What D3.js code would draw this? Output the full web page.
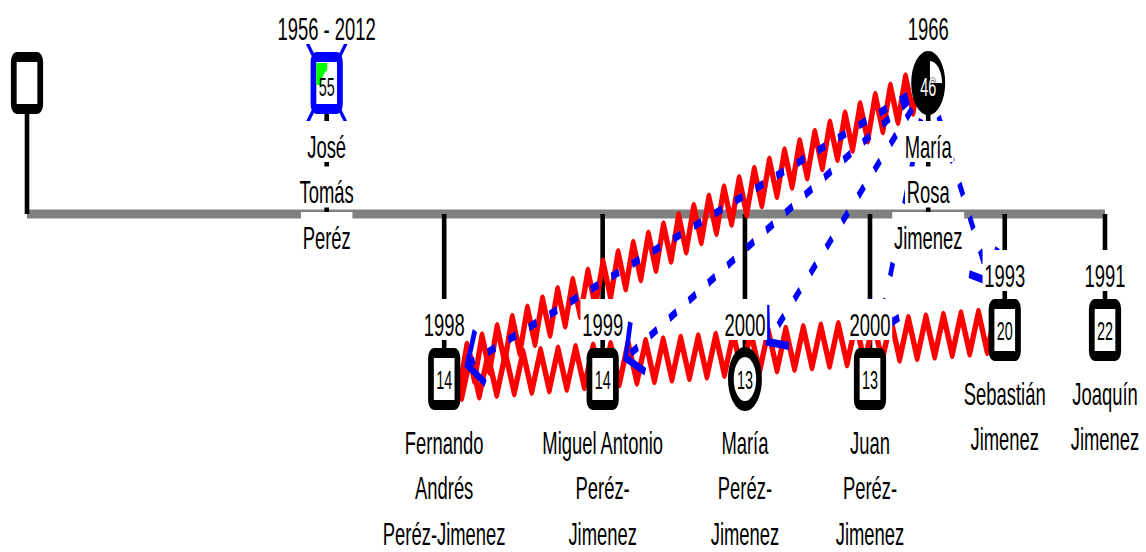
<!DOCTYPE html>
<html>
<head>
<meta charset="utf-8">
<script src="https://cdn.jsdelivr.net/npm/d3@7"></script>
<style>
  body { margin: 0; background: #fff; }
  svg { display: block; font-family: "Liberation Sans", Arial, sans-serif; }
</style>
</head>
<body>
<svg width="1146" height="552"></svg>
<script>
// people, left to right as they sit in the genogram
const ids = ['father1', 'jose', 'mariaRosa', 'fernando', 'miguel', 'maria', 'juan', 'sebastian', 'joaquin']
const sexes = ['M', 'M', 'F', 'M', 'M', 'F', 'M', 'M', 'M']
const years = ['', '1956 - 2012', '1966', '1998', '1999', '2000', '2000', '1993', '1991']
const ages = ['', '55', '46', '14', '14', '13', '13', '20', '22']
const nameLines = [
  [],
  ['José', 'Tomás', 'Peréz'],
  ['María', 'Rosa', 'Jimenez'],
  ['Fernando', 'Andrés', 'Peréz-Jimenez'],
  ['Miguel Antonio', 'Peréz-', 'Jimenez'],
  ['María', 'Peréz-', 'Jimenez'],
  ['Juan', 'Peréz-', 'Jimenez'],
  ['Sebastián', 'Jimenez'],
  ['Joaquín', 'Jimenez']
]
const deceased = ['jose']
const indexPerson = 'mariaRosa'
// place of each person on a 0-100 track, and the row they sit in
const columns = [0, 27.8, 83.6, 38.7, 53.4, 66.6, 78.2, 90.7, 100]
const rows = ['parents', 'parents', 'parents', 'younger', 'younger', 'younger', 'younger', 'older', 'older']

// relationships
const conflicts = [['mariaRosa', 'fernando'], ['fernando', 'sebastian']]
const focusFrom = 'mariaRosa'
const focusTo = ['fernando', 'miguel', 'maria', 'juan', 'sebastian']

//======== layout ========//
// the whole drawing is squeezed sideways, text included
const SX = 0.575
const svg = d3.select('svg')
const root = svg.append('g').attr('transform', `scale(${SX},1)`)

const x = d3.scaleLinear().domain([0, 100]).range([27 / SX, 1105 / SX])
const y = d3.scaleOrdinal().domain(['parents', 'older', 'younger']).range([83, 330, 379])
const sibY = 214
const halfH = 31

const people = ids.map((id, i) => ({
  id, sex: sexes[i], year: years[i], age: ages[i], lines: nameLines[i],
  cx: x(columns[i]), cy: y(rows[i]), top: rows[i] === 'parents',
  dead: deceased.includes(id)
}))
const byId = new Map(people.map(p => [p.id, p]))

//======== structure lines ========//
root.append('line')
  .attr('x1', x(0)).attr('x2', x(100))
  .attr('y1', sibY).attr('y2', sibY)
  .attr('stroke', '#808080').attr('stroke-width', 9)

root.append('g').selectAll('line')
  .data(people)
  .join('line')
  .attr('x1', d => d.cx).attr('x2', d => d.cx)
  .attr('y1', d => d.top ? d.cy + halfH : sibY)
  .attr('y2', d => d.top ? sibY : d.cy - halfH)
  .attr('stroke', '#000').attr('stroke-width', 8)

//======== relationships ========//
// conflict line: a zigzag with up/down swings, same number of cycles on each
const zigzag = (a, b, amp, halfSteps) => {
  const dx = b.cx - a.cx, dy = b.cy - a.cy
  const pts = d3.range(halfSteps + 1).map(i => {
    const off = (i === 0 || i === halfSteps) ? 0 : (i % 2 ? -amp : amp)
    return [a.cx + dx * i / halfSteps, a.cy + dy * i / halfSteps + off]
  })
  return d3.line()(pts)
}

root.append('g').selectAll('path')
  .data(conflicts)
  .join('path')
  .attr('d', d => zigzag(byId.get(d[0]), byId.get(d[1]), 20, 64))
  .attr('fill', 'none')
  .attr('stroke', '#ff0000').attr('stroke-width', 9)
  .attr('stroke-linejoin', 'round')

svg.append('defs').append('marker')
  .attr('id', 'chev')
  .attr('markerUnits', 'userSpaceOnUse')
  .attr('orient', 'auto')
  .attr('refX', 0).attr('refY', 0)
  .attr('markerWidth', 80).attr('markerHeight', 80)
  .attr('viewBox', '-40 -40 80 80')
  .append('path')
  .attr('d', 'M-24,-28L0,0L-24,28')
  .attr('fill', 'none')
  .attr('stroke', '#0000ff').attr('stroke-width', 8)
  .attr('stroke-dasharray', 'none')

// stop the focus line short of the child, on a box around it
const trimEnd = (a, b) => {
  const dx = a.cx - b.cx, dy = a.cy - b.cy
  const len = Math.hypot(dx, dy)
  const ux = dx / len, uy = dy / len
  const t = Math.min(40 / Math.abs(ux || 1e-6), 48 / Math.abs(uy || 1e-6))
  return [b.cx + ux * t, b.cy + uy * t]
}

const src = byId.get(focusFrom)
root.append('g').selectAll('line')
  .data(focusTo.map(id => byId.get(id)))
  .join('line')
  .attr('x1', src.cx).attr('y1', src.cy)
  .attr('x2', d => trimEnd(src, d)[0])
  .attr('y2', d => trimEnd(src, d)[1])
  .attr('stroke', '#0000ff').attr('stroke-width', 8)
  .attr('stroke-dasharray', '14,24')
  .attr('marker-end', 'url(#chev)')

//======== people ========//
const nodes = root.append('g').selectAll('g')
  .data(people)
  .join('g')
  .attr('transform', d => `translate(${d.cx},${d.cy})`)

nodes.filter(d => d.dead).each(function() {
  const g = d3.select(this)
  ;[[-34, -40, 34, 40], [34, -40, -34, 40]].forEach(([x1, y1, x2, y2]) => {
    g.append('line')
      .attr('x1', x1).attr('y1', y1).attr('x2', x2).attr('y2', y2)
      .attr('stroke', '#0000ff').attr('stroke-width', 5)
  })
})

nodes.filter(d => d.sex === 'M')
  .append('rect')
  .attr('x', -23).attr('y', -26)
  .attr('width', 46).attr('height', 52)
  .attr('rx', 5)
  .attr('fill', '#fff')
  .attr('stroke', d => d.dead ? '#0000ff' : '#000')
  .attr('stroke-width', 10)

nodes.filter(d => d.dead)
  .append('path')
  .attr('d', 'M-18,-20H1V-13Q-8,-9 -9,0L-9,2H-18Z')
  .attr('fill', '#00ff00')

nodes.filter(d => d.sex === 'F')
  .append('ellipse')
  .attr('rx', 24.5).attr('ry', 27)
  .attr('fill', d => d.id === indexPerson ? '#000' : '#fff')
  .attr('stroke', '#000').attr('stroke-width', 10)

nodes.filter(d => d.id === indexPerson)
  .append('path')
  .attr('d', 'M3,0V-22A21 22 0 0 1 24,0Z')
  .attr('fill', '#fff')

nodes.filter(d => d.age)
  .append('text')
  .attr('y', d => d.top ? 13 : 10)
  .attr('text-anchor', 'middle')
  .attr('font-size', 25)
  .attr('fill', d => d.id === indexPerson ? '#fff' : '#000')
  .attr('stroke', d => d.id === indexPerson ? '#000' : 'none')
  .attr('stroke-width', 1.2)
  .attr('paint-order', 'stroke')
  .text(d => d.age)

//======== labels ========//
const labels = root.append('g')
const addLabel = (cx, baseline, str) => {
  const t = labels.append('text')
    .attr('x', cx).attr('y', baseline)
    .attr('text-anchor', 'middle')
    .attr('font-size', 32)
    .attr('fill', '#000')
    .text(str)
  const bb = t.node().getBBox()
  labels.insert('rect', () => t.node())
    .attr('x', bb.x - 3).attr('width', bb.width + 6)
    .attr('y', baseline - 37).attr('height', 41)
    .attr('fill', '#fff')
}

people.forEach(p => {
  if (p.year) addLabel(p.cx, p.cy - 43, p.year)
  p.lines.forEach((s, i) => addLabel(p.cx, p.cy + 75 + i * 45.5, s))
})
</script>
</body>
</html>
